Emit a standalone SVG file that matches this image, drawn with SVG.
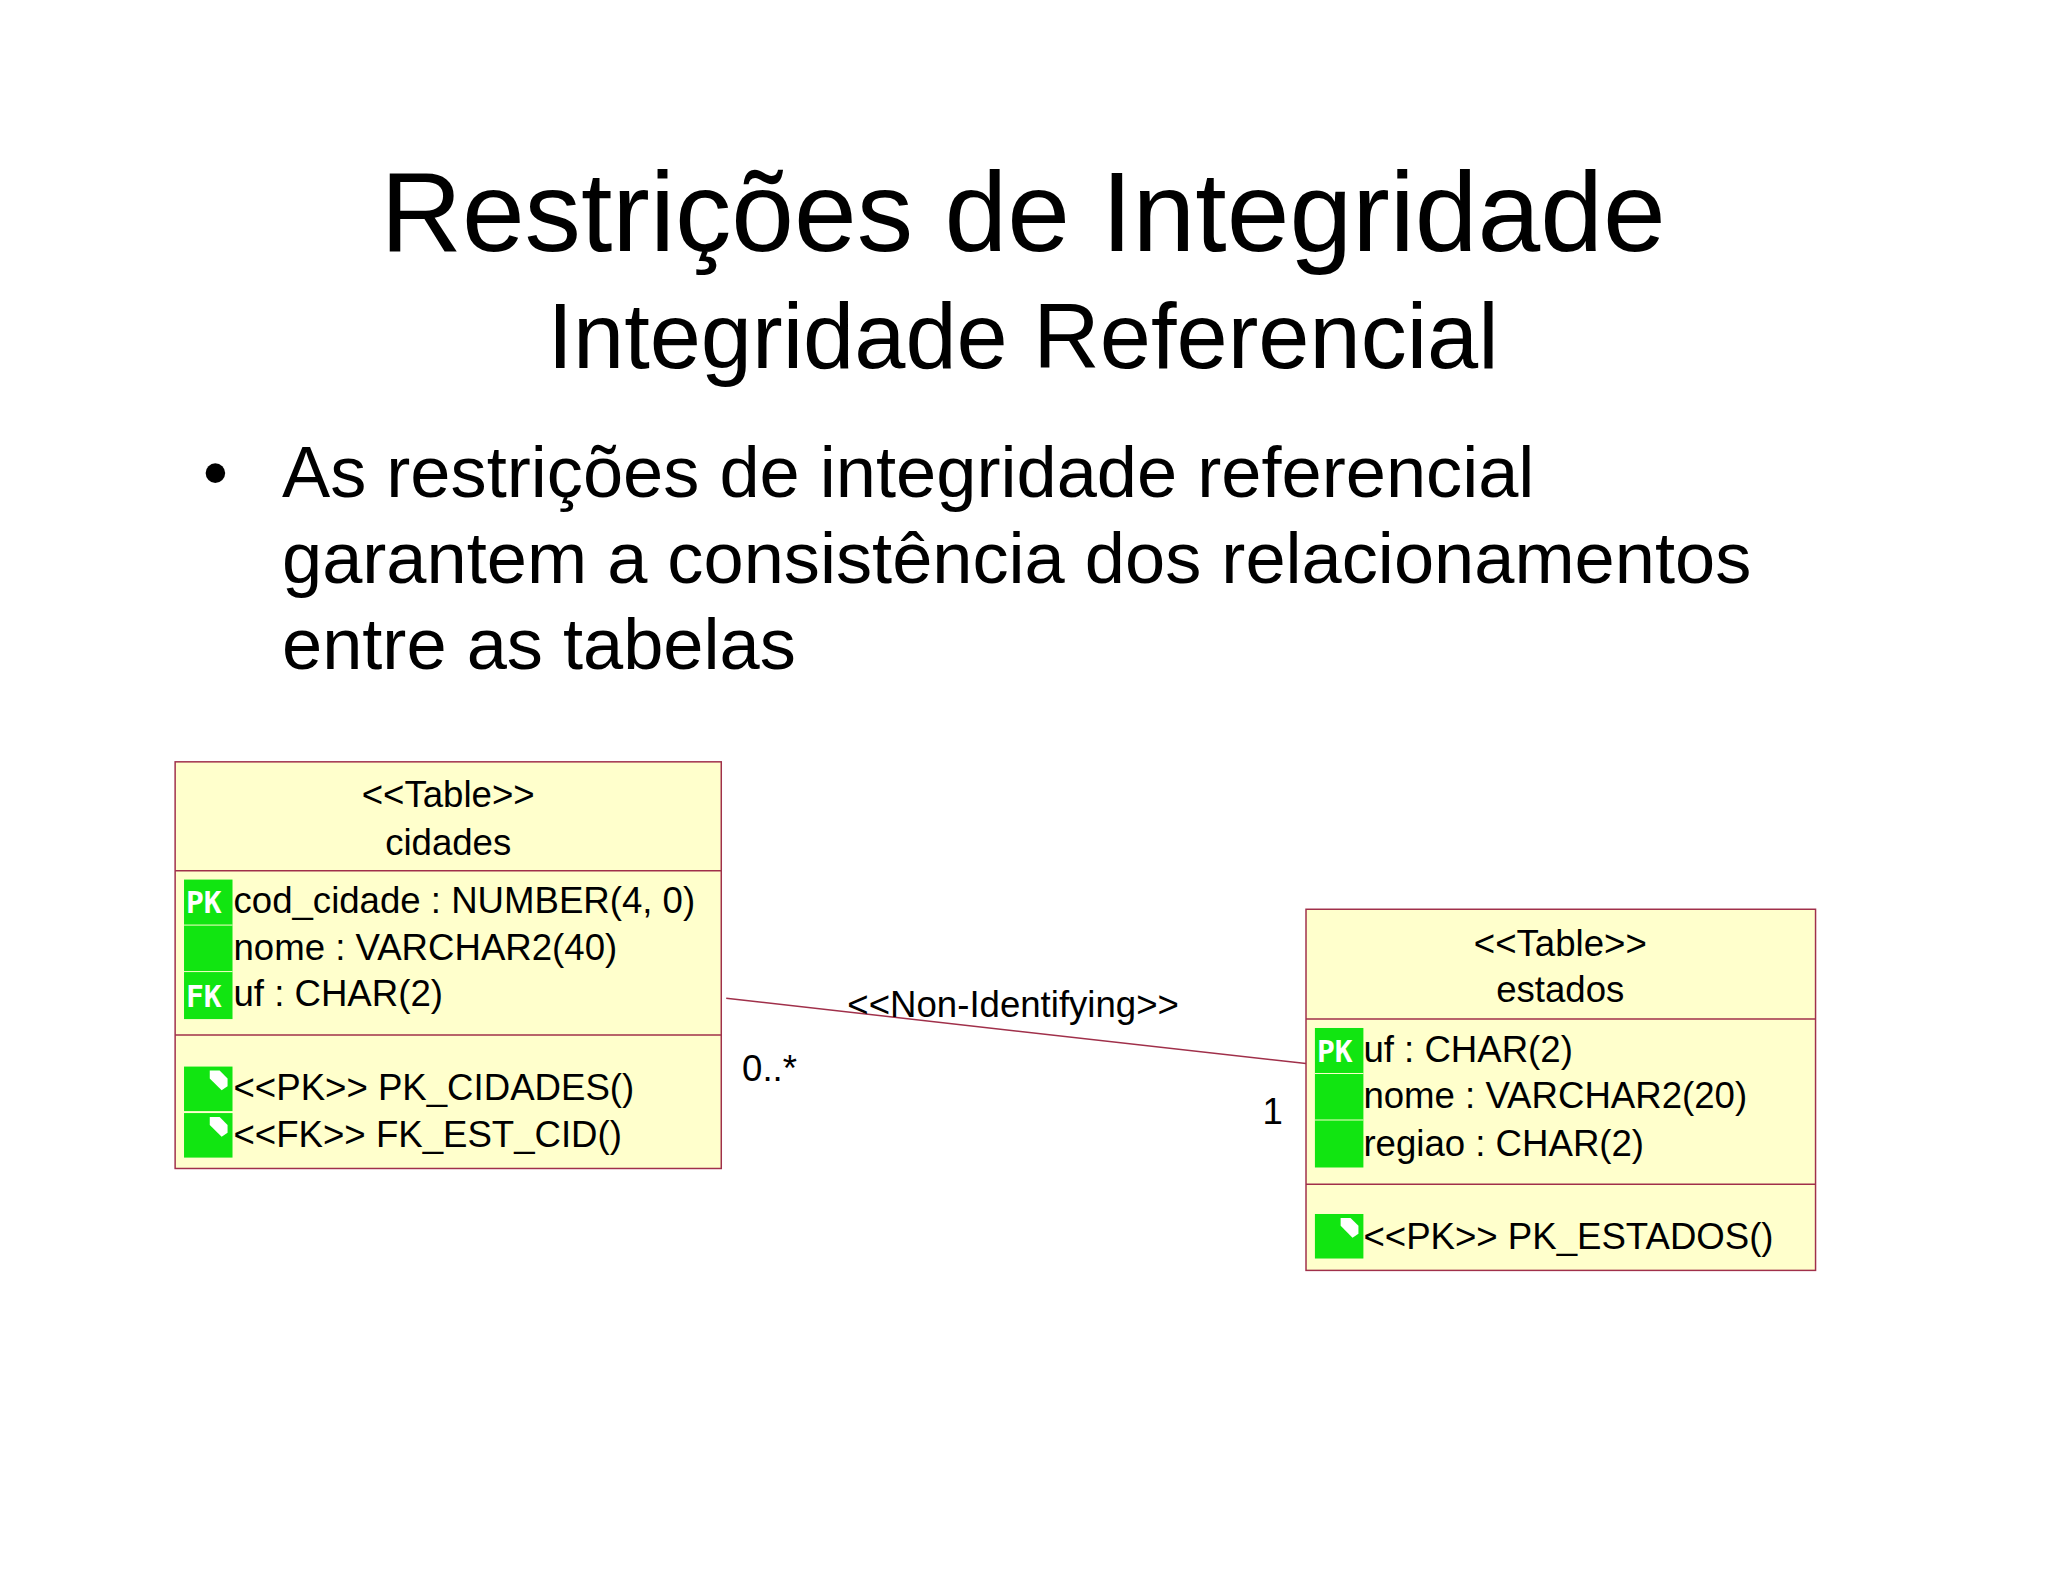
<svg xmlns="http://www.w3.org/2000/svg" width="2048" height="1582" viewBox="0 0 2048 1582">
<style>
text{font-family:"Liberation Sans",Arial,sans-serif;fill:#000}
.t{font-size:37px}
.box{fill:#FFFFCC;stroke:#A0304A;stroke-width:1.5}
.div{stroke:#A0304A;stroke-width:1.5}
.ic{fill:#11E511}
.ik{font-size:30px;font-weight:bold;fill:#fff;font-family:"DejaVu Sans Mono",monospace}
</style>
<defs>
<g id="meth"><rect class="ic" x="0" y="0" width="49" height="45"/><path d="M26 4 L36 4 L44 12 L44 20 L38 24 L26 12 Z" fill="#fff"/></g>
</defs>
<rect width="2048" height="1582" fill="#fff"/>
<g transform="scale(0.9894)">
<text x="1034" y="254" font-size="114" text-anchor="middle">Restrições de Integridade</text>
<text x="1034" y="372" font-size="93" text-anchor="middle">Integridade Referencial</text>
<text x="205" y="502" font-size="73">•</text>
<text x="285" y="502" font-size="73">As restrições de integridade referencial</text>
<text x="285" y="589" font-size="73">garantem a consistência dos relacionamentos</text>
<text x="285" y="676" font-size="73">entre as tabelas</text>
<g id="connectors">
<line x1="734" y1="1009" x2="1320" y2="1075" stroke="#A0304A" stroke-width="1.5"/>
<text class="t" x="1024" y="1028" text-anchor="middle">&lt;&lt;Non-Identifying&gt;&gt;</text>
<text class="t" x="750" y="1093">0..*</text>
<text class="t" x="1276" y="1136">1</text>
</g>
<g id="cidades">
<rect class="box" x="177" y="770" width="552" height="411"/>
<line class="div" x1="177" y1="880" x2="729" y2="880"/>
<line class="div" x1="177" y1="1046" x2="729" y2="1046"/>
<text class="t" x="453" y="816" text-anchor="middle">&lt;&lt;Table&gt;&gt;</text>
<text class="t" x="453" y="864" text-anchor="middle">cidades</text>
<rect class="ic" x="186" y="889" width="49" height="141"/>
<line x1="186" y1="935" x2="235" y2="935" stroke="#FFFFCC" stroke-width="1"/>
<line x1="186" y1="982" x2="235" y2="982" stroke="#FFFFCC" stroke-width="1"/>
<text class="ik" x="188" y="923">PK</text>
<text class="ik" x="188" y="1018">FK</text>
<text class="t" x="236" y="923">cod_cidade : NUMBER(4, 0)</text>
<text class="t" x="236" y="970">nome : VARCHAR2(40)</text>
<text class="t" x="236" y="1017">uf : CHAR(2)</text>
<use href="#meth" x="186" y="1078"/>
<use href="#meth" x="186" y="1125"/>
<text class="t" x="236" y="1112">&lt;&lt;PK&gt;&gt; PK_CIDADES()</text>
<text class="t" x="236" y="1159">&lt;&lt;FK&gt;&gt; FK_EST_CID()</text>
</g>
<g id="estados">
<rect class="box" x="1320" y="919" width="515" height="365"/>
<line class="div" x1="1320" y1="1030" x2="1835" y2="1030"/>
<line class="div" x1="1320" y1="1197" x2="1835" y2="1197"/>
<text class="t" x="1577" y="966" text-anchor="middle">&lt;&lt;Table&gt;&gt;</text>
<text class="t" x="1577" y="1013" text-anchor="middle">estados</text>
<rect class="ic" x="1329" y="1039" width="49" height="141"/>
<line x1="1329" y1="1085" x2="1378" y2="1085" stroke="#FFFFCC" stroke-width="1"/>
<line x1="1329" y1="1132" x2="1378" y2="1132" stroke="#FFFFCC" stroke-width="1"/>
<text class="ik" x="1331" y="1073">PK</text>
<text class="t" x="1378" y="1073">uf : CHAR(2)</text>
<text class="t" x="1378" y="1120">nome : VARCHAR2(20)</text>
<text class="t" x="1378" y="1168">regiao : CHAR(2)</text>
<use href="#meth" x="1329" y="1227"/>
<text class="t" x="1378" y="1262">&lt;&lt;PK&gt;&gt; PK_ESTADOS()</text>
</g>
</g>
</svg>
